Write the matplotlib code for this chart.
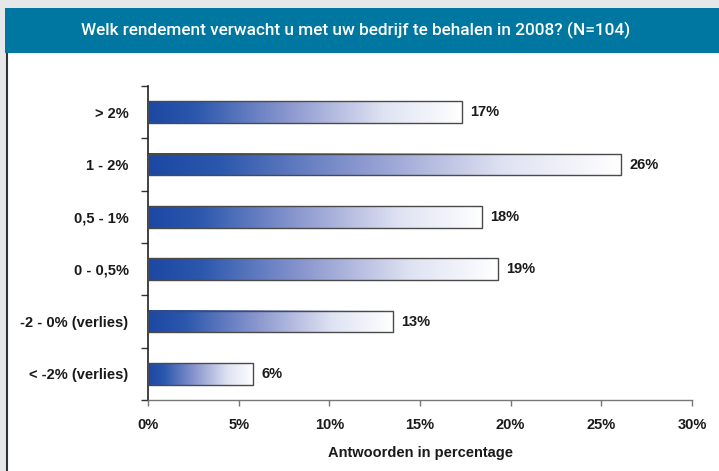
import matplotlib
matplotlib.use("Agg")
import matplotlib.pyplot as plt
import numpy as np
from matplotlib.colors import LinearSegmentedColormap
from matplotlib.patches import Rectangle

title = "Welk rendement verwacht u met uw bedrijf te behalen in 2008? (N=104)"
categories = ["> 2%", "1 - 2%", "0,5 - 1%", "0 - 0,5%", "-2 - 0% (verlies)", "< -2% (verlies)"]
values = [17.3, 26.1, 18.4, 19.3, 13.5, 5.8]
value_labels = ["17%", "26%", "18%", "19%", "13%", "6%"]
xticks = [0, 5, 10, 15, 20, 25, 30]
xtick_labels = ["0%", "5%", "10%", "15%", "20%", "25%", "30%"]
xlabel = "Antwoorden in percentage"

W, H = 719, 471
fig = plt.figure(figsize=(W / 100, H / 100), dpi=100)
fig.patch.set_facecolor("white")

# background frame
fig.add_artist(Rectangle((0, 0), 1, 1, transform=fig.transFigure, facecolor="#e6e7e9", edgecolor="none", zorder=-5))
fig.add_artist(Rectangle((6 / W, 0), 1 - 6 / W, 1 - 53 / H, transform=fig.transFigure, facecolor="white", edgecolor="none", zorder=-4))
fig.add_artist(plt.Line2D([6.5 / W, 6.5 / W], [0, 1 - 53 / H], transform=fig.transFigure, color="#333333", lw=1.5, zorder=-3))
fig.add_artist(Rectangle((5 / W, 1 - 53 / H), 1 - 5 / W, 45 / H, transform=fig.transFigure, facecolor="#0077a0", edgecolor="none", zorder=-3))
fig.text(356 / W, 1 - 30.5 / H, title, color="white", ha="center", va="center",
         fontsize=12.4, family=["Roboto", "DejaVu Sans"], fontweight="medium")

ax = fig.add_axes([148 / W, 1 - 400 / H, (692 - 148) / W, (400 - 86) / H])
ax.set_facecolor("none")
n = len(categories)
ypos = np.arange(n)

cmap = LinearSegmentedColormap.from_list("g", [(0, "#1c48a4"), (0.15, "#2b57ad"), (0.45, "#8c98cf"),
                                               (0.75, "#dfe2f2"), (1.0, "#ffffff")])
grad = np.linspace(0, 1, 256).reshape(1, -1)
bars = ax.barh(ypos, values, height=0.41, facecolor="none", edgecolor="#4a4a4a", linewidth=1.0, zorder=3)
for b in bars:
    x0, y0, w, h = b.get_x(), b.get_y(), b.get_width(), b.get_height()
    ax.imshow(grad, cmap=cmap, aspect="auto", extent=(x0, x0 + w, y0 + h, y0), zorder=2, interpolation="bicubic")
ax.set_xlim(0, 30)
ax.set_ylim(n - 0.5, -0.5)

for y, v, lab in zip(ypos, values, value_labels):
    ax.text(v + 0.45, y, lab, va="center", ha="left", fontsize=10.5, fontweight="bold",
            family="Liberation Sans", color="#1a1a1a")

ax.set_yticks(ypos)
ax.set_yticklabels(categories, fontsize=10.5, fontweight="bold", family="Liberation Sans", color="#1a1a1a")
ax.set_yticks(np.arange(n + 1) - 0.5, minor=True)
ax.tick_params(axis="y", which="major", length=0, pad=14)
ax.tick_params(axis="y", which="minor", length=5, color="#333333", width=1)
ax.set_xticks(xticks)
ax.set_xticklabels(xtick_labels, fontsize=10.5, fontweight="bold", family="Liberation Sans", color="#1a1a1a")
ax.tick_params(axis="x", length=4, color="#777777", width=1, pad=9)
ax.set_xlabel(xlabel, fontsize=10.5, fontweight="bold", family="Liberation Sans", color="#1a1a1a", labelpad=10)

for s in ["top", "right"]:
    ax.spines[s].set_visible(False)
ax.spines["left"].set_color("#222222")
ax.spines["left"].set_linewidth(1.2)
ax.spines["bottom"].set_color("#777777")
ax.spines["bottom"].set_linewidth(1.0)

fig.savefig("out.png", dpi=100)
